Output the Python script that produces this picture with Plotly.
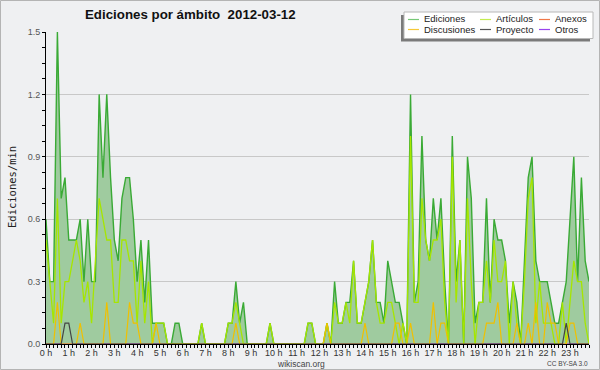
import plotly.graph_objects as go

# 10-minute slots (6 per hour), values in edits/min
slots = list(range(144))

ediciones = [
    0.6, 0.3, 0.3, 1.5, 0.7, 0.8,   # 0 h
    0.5, 0.5, 0.5, 0.6, 0.3, 0.6,   # 1 h
    0.3, 0.3, 1.2, 0.8, 1.2, 0.8,   # 2 h
    0.5, 0.4, 0.7, 0.8, 0.8, 0.6,   # 3 h
    0.3, 0.5, 0.2, 0.5, 0.1, 0.1,   # 4 h
    0.1, 0.1, 0.0, 0.0, 0.1, 0.1,   # 5 h
    0.0, 0.0, 0.0, 0.0, 0.0, 0.1,   # 6 h
    0.0, 0.0, 0.0, 0.0, 0.0, 0.0,   # 7 h
    0.1, 0.1, 0.3, 0.1, 0.2, 0.0,   # 8 h
    0.0, 0.0, 0.0, 0.0, 0.0, 0.1,   # 9 h
    0.0, 0.0, 0.0, 0.0, 0.0, 0.0,   # 10 h
    0.0, 0.0, 0.0, 0.1, 0.1, 0.0,   # 11 h
    0.0, 0.0, 0.1, 0.0, 0.3, 0.1,   # 12 h
    0.1, 0.2, 0.2, 0.4, 0.1, 0.1,   # 13 h
    0.2, 0.3, 0.5, 0.2, 0.2, 0.1,   # 14 h
    0.4, 0.3, 0.2, 0.2, 0.1, 0.0,   # 15 h
    1.2, 0.2, 0.3, 1.0, 0.5, 0.4,   # 16 h
    0.7, 0.5, 0.7, 0.3, 0.0, 1.0,   # 17 h
    0.3, 0.5, 0.0, 0.9, 0.7, 0.1,   # 18 h
    0.2, 0.2, 0.7, 0.2, 0.6, 0.5,   # 19 h
    0.5, 0.4, 0.1, 0.3, 0.2, 0.0,   # 20 h
    0.4, 0.8, 0.9, 0.4, 0.3, 0.3,   # 21 h
    0.3, 0.2, 0.1, 0.1, 0.2, 0.3,   # 22 h
    0.6, 0.9, 0.3, 0.8, 0.4, 0.3,   # 23 h
]

articulos = [
    0.5, 0.3, 0.1, 0.7, 0.1, 0.3,
    0.3, 0.4, 0.5, 0.4, 0.2, 0.3,
    0.1, 0.4, 0.7, 0.6, 0.5, 0.5,
    0.2, 0.2, 0.5, 0.5, 0.4, 0.4,
    0.1, 0.4, 0.1, 0.3, 0.0, 0.1,
    0.1, 0.1, 0.0, 0.0, 0.0, 0.0,
    0.0, 0.0, 0.0, 0.0, 0.0, 0.1,
    0.0, 0.0, 0.0, 0.0, 0.0, 0.0,
    0.1, 0.1, 0.2, 0.1, 0.0, 0.0,
    0.0, 0.0, 0.0, 0.0, 0.0, 0.1,
    0.0, 0.0, 0.0, 0.0, 0.0, 0.0,
    0.0, 0.0, 0.0, 0.1, 0.1, 0.0,
    0.0, 0.0, 0.1, 0.0, 0.2, 0.1,
    0.1, 0.2, 0.1, 0.4, 0.1, 0.1,
    0.2, 0.3, 0.5, 0.2, 0.1, 0.1,
    0.2, 0.2, 0.1, 0.0, 0.1, 0.0,
    1.0, 0.2, 0.2, 0.7, 0.5, 0.4,
    0.5, 0.5, 0.6, 0.2, 0.0, 0.9,
    0.2, 0.5, 0.0, 0.7, 0.3, 0.0,
    0.2, 0.2, 0.4, 0.2, 0.5, 0.3,
    0.3, 0.4, 0.0, 0.3, 0.1, 0.0,
    0.3, 0.7, 0.8, 0.1, 0.3, 0.1,
    0.1, 0.1, 0.0, 0.0, 0.2, 0.0,
    0.2, 0.4, 0.3, 0.3, 0.1, 0.0,
]

discusiones = [
    0.0, 0.0, 0.0, 0.2, 0.0, 0.0,
    0.0, 0.0, 0.0, 0.1, 0.0, 0.0,
    0.0, 0.0, 0.0, 0.0, 0.2, 0.0,
    0.0, 0.0, 0.0, 0.0, 0.2, 0.1,
    0.1, 0.0, 0.0, 0.0, 0.0, 0.1,
    0.0, 0.0, 0.0, 0.0, 0.0, 0.0,
    0.0, 0.0, 0.0, 0.0, 0.0, 0.0,
    0.0, 0.0, 0.0, 0.0, 0.0, 0.0,
    0.0, 0.0, 0.1, 0.0, 0.0, 0.0,
    0.0, 0.0, 0.0, 0.0, 0.0, 0.0,
    0.0, 0.0, 0.0, 0.0, 0.0, 0.0,
    0.0, 0.0, 0.0, 0.0, 0.0, 0.0,
    0.0, 0.0, 0.1, 0.0, 0.0, 0.0,
    0.0, 0.0, 0.0, 0.0, 0.0, 0.0,
    0.1, 0.0, 0.0, 0.0, 0.0, 0.0,
    0.0, 0.0, 0.1, 0.1, 0.0, 0.0,
    0.1, 0.0, 0.0, 0.0, 0.0, 0.0,
    0.2, 0.0, 0.1, 0.1, 0.0, 0.0,
    0.0, 0.0, 0.0, 0.0, 0.0, 0.0,
    0.0, 0.0, 0.1, 0.1, 0.1, 0.2,
    0.0, 0.0, 0.0, 0.0, 0.1, 0.0,
    0.0, 0.1, 0.0, 0.2, 0.0, 0.0,
    0.2, 0.1, 0.1, 0.0, 0.0, 0.0,
    0.1, 0.1, 0.0, 0.0, 0.0, 0.0,
]

proyecto = [0.0] * 144
proyecto[5] = 0.1
proyecto[6] = 0.1
proyecto[137] = 0.1

anexos = [0.0] * 144
otros = [0.0] * 144

hour_ticks = list(range(24))
hour_labels = [f"{h} h" for h in hour_ticks]
y_ticks = [0.0, 0.3, 0.6, 0.9, 1.2, 1.5]

# ---------------------------------------------------------------
W, H = 600, 370
L, R, T, B = 46, 11, 32, 26
PW, PH = W - L - R, H - T - B

def pxx(px):
    return (px - L) / PW

def pxy(py):
    return (H - B - py) / PH

hours = [s / 6 for s in slots]

C_ED = "#3aaa35"
C_ART = "#a6e600"
C_DIS = "#f0c000"
C_PRO = "#444444"
C_ANE = "#f07848"
C_OTR = "#9944ee"

fig = go.Figure()
fig.add_trace(go.Scatter(x=hours, y=ediciones, mode="lines", fill="tozeroy",
                         fillcolor="#9fcb9f", line=dict(color=C_ED, width=1.4),
                         name="Ediciones"))
fig.add_trace(go.Scatter(x=hours, y=anexos, mode="lines",
                         line=dict(color=C_ANE, width=1.2), name="Anexos"))
fig.add_trace(go.Scatter(x=hours, y=otros, mode="lines",
                         line=dict(color=C_OTR, width=1.2), name="Otros"))
fig.add_trace(go.Scatter(x=hours, y=articulos, mode="lines",
                         line=dict(color=C_ART, width=1.3), name="Artículos"))
fig.add_trace(go.Scatter(x=hours, y=discusiones, mode="lines",
                         line=dict(color=C_DIS, width=1.2), name="Discusiones"))
fig.add_trace(go.Scatter(x=hours, y=proyecto, mode="lines",
                         line=dict(color=C_PRO, width=1.2), name="Proyecto"))

shapes = []
annotations = []

# outer frame
shapes.append(dict(type="rect", xref="paper", yref="paper",
                   x0=pxx(0.5), x1=pxx(599.5), y0=pxy(0.5), y1=pxy(369.5),
                   line=dict(color="#b4b4b4", width=1), layer="below"))

# legend box with shadow
shapes.append(dict(type="rect", xref="paper", yref="paper",
                   x0=pxx(401), x1=pxx(590), y0=pxy(15), y1=pxy(41.5),
                   fillcolor="#7a7a7a", line=dict(width=0)))
shapes.append(dict(type="rect", xref="paper", yref="paper",
                   x0=pxx(404), x1=pxx(593), y0=pxy(12), y1=pxy(38.5),
                   fillcolor="white", line=dict(color="#b8b8b8", width=1)))

legend_items = [
    ("Ediciones", "#77c877", 408, 424, 19.5),
    ("Artículos", "#c4ec50", 480, 496, 19.5),
    ("Anexos", C_ANE, 539, 555, 19.5),
    ("Discusiones", "#f5c838", 408, 424, 29.5),
    ("Proyecto", "#555555", 480, 496, 29.5),
    ("Otros", C_OTR, 539, 555, 29.5),
]
for label, col, lx, tx, ly in legend_items:
    shapes.append(dict(type="line", xref="paper", yref="paper",
                       x0=pxx(lx), x1=pxx(lx + 11), y0=pxy(ly), y1=pxy(ly),
                       line=dict(color=col, width=1.2)))
    annotations.append(dict(xref="paper", yref="paper", x=pxx(tx - 2), y=pxy(ly - 0.5),
                            text=label, showarrow=False, xanchor="left", yanchor="middle",
                            font=dict(family="Liberation Sans", size=9.5, color="#222222")))

# title
annotations.append(dict(xref="paper", yref="paper", x=pxx(83), y=pxy(14.5),
                        text="<b>Ediciones por ámbito \u00a02012-03-12</b>", showarrow=False,
                        xanchor="left", yanchor="middle",
                        font=dict(family="Liberation Sans", size=13.3, color="#111111")))

# axis title
annotations.append(dict(xref="paper", yref="paper", x=pxx(12), y=pxy(187),
                        text="Ediciones/min", showarrow=False, textangle=-90,
                        xanchor="center", yanchor="middle",
                        font=dict(family="DejaVu Sans Mono", size=10.5, color="#222222")))

# footer
annotations.append(dict(xref="paper", yref="paper", x=pxx(301), y=pxy(363.5),
                        text="wikiscan.org", showarrow=False, xanchor="center", yanchor="middle",
                        font=dict(family="Liberation Sans", size=8.5, color="#444444")))
annotations.append(dict(xref="paper", yref="paper", x=pxx(590), y=pxy(363.5),
                        text="CC BY-SA 3.0", showarrow=False, xanchor="right", yanchor="middle",
                        font=dict(family="Liberation Sans", size=6.5, color="#444444")))

fig.update_layout(
    width=W, height=H,
    margin=dict(l=L, r=R, t=T, b=B, pad=0),
    paper_bgcolor="#eff0f2",
    plot_bgcolor="#eff0f2",
    showlegend=False,
    shapes=shapes,
    annotations=annotations,
    xaxis=dict(
        range=[0, 143 / 6],
        tickvals=hour_ticks, ticktext=hour_labels,
        ticks="outside", ticklen=3, tickwidth=1, tickcolor="black",
        ticklabelstandoff=-3,
        showline=True, linecolor="black", linewidth=1,
        showgrid=False, zeroline=False,
        tickfont=dict(family="Liberation Sans", size=9, color="#333333"),
        minor=dict(dtick=1 / 6, tick0=0, ticks="outside", ticklen=3,
                   tickcolor="black", showgrid=False),
        fixedrange=True,
    ),
    yaxis=dict(
        range=[0, 1.5],
        tickvals=y_ticks, ticktext=[f"{v:.1f}" for v in y_ticks],
        ticks="outside", ticklen=3, tickwidth=1, tickcolor="black",
        showline=True, linecolor="black", linewidth=1,
        showgrid=True, gridcolor="#c8c8c8", gridwidth=1, zeroline=False,
        tickfont=dict(family="Liberation Sans", size=9, color="#555555"),
        minor=dict(dtick=0.075, tick0=0, ticks="outside", ticklen=3,
                   tickcolor="black", showgrid=False),
        fixedrange=True,
    ),
)

fig.write_html(
    "out.html",
    config={"displayModeBar": False},
    post_script="document.body.style.margin='0';document.body.style.padding='0';",
)
